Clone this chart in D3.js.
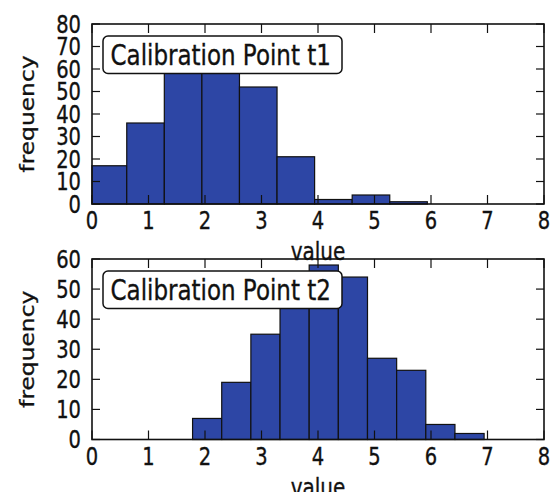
<!DOCTYPE html>
<html>
<head>
<meta charset="utf-8">
<script src="https://cdn.jsdelivr.net/npm/d3@7"></script>
<style>
  body { margin: 0; background: #fff; }
  text { font-family: "DejaVu Sans", sans-serif; fill: #111; }
</style>
</head>
<body>
<svg id="chart" width="553" height="492"></svg>
<script>
"use strict";

// histogram t1: bin edges and counts
var edgesT1 = [-0.05, 0.615, 1.28, 1.945, 2.61, 3.275, 3.94, 4.605, 5.27, 5.935];
var countsT1 = [17, 36, 62, 61, 52, 21, 2, 4, 1];

// histogram t2
var edgesT2 = [1.78, 2.296, 2.812, 3.328, 3.844, 4.36, 4.876, 5.392, 5.908, 6.424, 6.94];
var countsT2 = [7, 19, 35, 47, 58, 54, 27, 23, 5, 2];

var xTicks = [0, 1, 2, 3, 4, 5, 6, 7, 8];
var yTicksT1 = [0, 10, 20, 30, 40, 50, 60, 70, 80];
var yTicksT2 = [0, 10, 20, 30, 40, 50, 60];
var labels = ["Calibration Point t1", "Calibration Point t2"];

var svg = d3.select("#chart"),
  stretch = 1.23,
  left = 92, right = 544;

// the picture is stretched vertically, text too
function label(g, x, y, str, size, anchor, rot) {
  return g.append("text")
    .attr("transform", "translate(" + x + "," + y + ")" + (rot ? " rotate(-90)" : "") +
      (rot ? " scale(" + stretch + ",1)" : " scale(1," + stretch + ")"))
    .attr("text-anchor", anchor)
    .style("font-size", size + "px")
    .style("stroke", "#111")
    .style("stroke-width", 0.3)
    .text(str);
}

function panel(top, bottom, edges, counts, yTicks, yMax, name) {
  var x = d3.scaleLinear().domain([0, 8]).range([left, right]),
    y = d3.scaleLinear().domain([0, yMax]).range([bottom, top]),
    g = svg.append("g");

  var bins = counts.map(function(c, i) { return {x0: edges[i], x1: edges[i + 1], n: c}; });

  g.append("g").selectAll("rect")
    .data(bins)
    .enter()
    .append("rect")
    .attr("x", function(d) { return x(Math.max(0, d.x0)); })
    .attr("width", function(d) { return x(d.x1) - x(Math.max(0, d.x0)); })
    .attr("y", function(d) { return y(d.n); })
    .attr("height", function(d) { return y(0) - y(d.n); })
    .attr("fill", "#2d46a5")
    .attr("stroke", "#111")
    .attr("stroke-width", 1.2);

  // inward ticks on all four sides
  var ticks = g.append("g").attr("stroke", "#111").attr("stroke-width", 1.2);
  xTicks.forEach(function(t) {
    ticks.append("line").attr("x1", x(t)).attr("x2", x(t)).attr("y1", bottom).attr("y2", bottom - 9);
    ticks.append("line").attr("x1", x(t)).attr("x2", x(t)).attr("y1", top).attr("y2", top + 9);
  });
  yTicks.forEach(function(t) {
    ticks.append("line").attr("x1", left).attr("x2", left + 8).attr("y1", y(t)).attr("y2", y(t));
    ticks.append("line").attr("x1", right).attr("x2", right - 8).attr("y1", y(t)).attr("y2", y(t));
  });

  g.append("rect")
    .attr("x", left).attr("y", top)
    .attr("width", right - left).attr("height", bottom - top)
    .attr("fill", "none").attr("stroke", "#111").attr("stroke-width", 1.6);

  xTicks.forEach(function(t) {
    label(g, x(t), bottom + 25, t, 19.5, "middle");
  });
  yTicks.forEach(function(t) {
    label(g, 81, y(t) + 8.5, t, 19.5, "end");
  });

  label(g, (left + right) / 2, bottom + 56, "value", 20, "middle");
  label(g, 34, (top + bottom) / 2, "frequency", 19, "middle", true);

  // text box
  g.append("rect")
    .attr("x", 103).attr("y", top + 12)
    .attr("width", 239).attr("height", 37.5)
    .attr("rx", 5).attr("ry", 5)
    .attr("fill", "#fff").attr("stroke", "#111").attr("stroke-width", 1.5);
  label(g, 110.5, top + 41, name, 23, "start");
}

panel(24, 204, edgesT1, countsT1, yTicksT1, 80, labels[0]);
panel(259, 439.5, edgesT2, countsT2, yTicksT2, 60, labels[1]);
</script>
</body>
</html>
